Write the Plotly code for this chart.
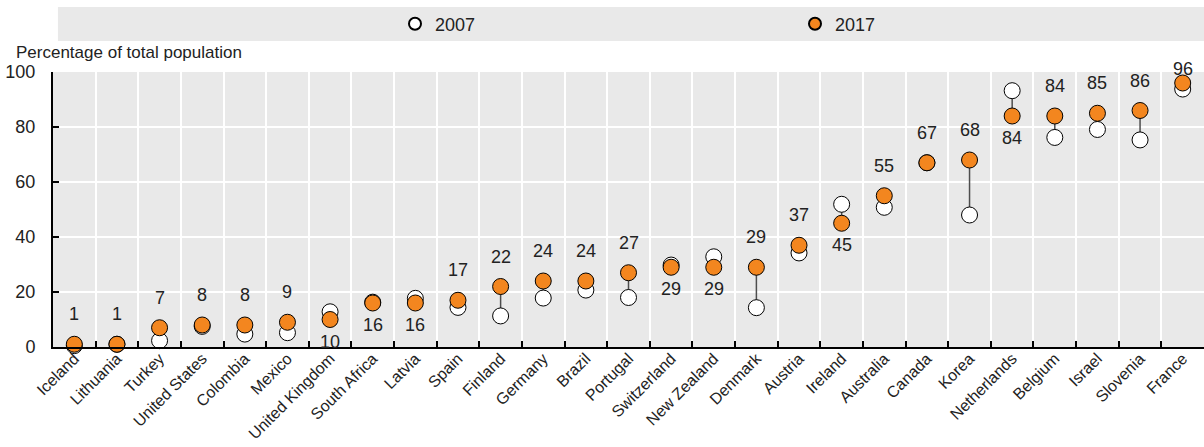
import plotly.graph_objects as go

countries = ["Iceland", "Lithuania", "Turkey", "United States", "Colombia", "Mexico",
             "United Kingdom", "South Africa", "Latvia", "Spain", "Finland", "Germany",
             "Brazil", "Portugal", "Switzerland", "New Zealand", "Denmark", "Austria",
             "Ireland", "Australia", "Canada", "Korea", "Netherlands", "Belgium",
             "Israel", "Slovenia", "France"]
share_2007 = [0.5, 1.0, 2.3, 7.5, 4.7, 5.2, 12.8, 16.3, 17.7, 14.4, 11.3, 17.8,
              20.7, 18.0, 29.8, 32.8, 14.3, 34.2, 51.9, 50.8, 67.0, 48.0, 93.2, 76.2,
              79.1, 75.3, 93.8]
share_2017 = [1, 1, 7, 8, 8, 9, 10, 16, 16, 17, 22, 24, 24, 27, 29, 29, 29, 37,
              45, 55, 67, 68, 84, 84, 85, 86, 96]
y_ticks = [0, 20, 40, 60, 80, 100]

FONT = "Liberation Sans Narrow, Arial Narrow, Liberation Sans, Arial, sans-serif"
ORANGE = "#F3861F"
TEXT = "#222222"
FS = 17

fig = go.Figure()

# vertical connectors between the two years
cx, cy = [], []
for c, a, b in zip(countries, share_2007, share_2017):
    cx += [c, c, None]
    cy += [a, b, None]
fig.add_trace(go.Scatter(x=cx, y=cy, mode="lines", line=dict(color="#4d4d4d", width=1.5),
                         hoverinfo="skip", showlegend=False, cliponaxis=False))

fig.add_trace(go.Scatter(x=countries, y=share_2007, mode="markers", name="2007",
                         marker=dict(size=16, color="white", line=dict(color="black", width=1)),
                         cliponaxis=False))
fig.add_trace(go.Scatter(x=countries, y=share_2017, mode="markers", name="2017",
                         marker=dict(size=16, color=ORANGE, line=dict(color="black", width=1)),
                         cliponaxis=False))

# value labels for 2017: above the pair when it rose, below when it fell;
# labels near the top are kept just above the plotting area
PX_PER_UNIT = 275 / 100
annotations = []
for c, a, b in zip(countries, share_2007, share_2017):
    if b >= a:
        yv = max(a, b)
        shift = min(30, (101 - yv) * PX_PER_UNIT)
    else:
        yv, shift = min(a, b), -22
    annotations.append(dict(x=c, y=yv, text=str(b), showarrow=False, yshift=shift,
                            xanchor="center", yanchor="middle",
                            font=dict(family=FONT, size=FS + 1, color=TEXT)))

annotations.append(dict(xref="paper", yref="paper", x=-0.034, y=1.0727, xanchor="left",
                        yanchor="middle", text="Percentage of total population",
                        showarrow=False, font=dict(family=FONT, size=FS, color=TEXT)))

fig.update_layout(
    width=1204, height=447,
    margin=dict(l=53, r=0, t=72, b=100, autoexpand=False),
    paper_bgcolor="white",
    plot_bgcolor="#e9e9e9",
    font=dict(family=FONT, size=FS, color=TEXT),
    annotations=annotations,
    shapes=[dict(type="rect", xref="paper", yref="paper", x0=0.0043, x1=1.0,
                 y0=1.1127, y1=1.236, fillcolor="#e9e9e9", line=dict(width=0), layer="below")],
    showlegend=True,
    legend=dict(orientation="h", x=(395 - 53) / 1151, xanchor="left", y=1.1745,
                yanchor="middle", bgcolor="rgba(0,0,0,0)", entrywidth=355,
                entrywidthmode="pixels", itemsizing="constant", tracegroupgap=0,
                font=dict(family=FONT, size=FS + 1, color=TEXT)),
    xaxis=dict(type="category", categoryorder="array", categoryarray=countries,
               tickson="boundaries", ticks="inside", ticklen=6, tickcolor="black",
               tickwidth=1.5, showgrid=True, gridcolor="white", gridwidth=2,
               showline=True, linecolor="black", linewidth=2, tickangle=-45,
               automargin=False, ticklabelstandoff=-6,
               tickfont=dict(family=FONT, size=16, color=TEXT), range=[-0.5, 26.5]),
    yaxis=dict(range=[0, 100], tickvals=y_ticks, ticks="inside", ticklen=6,
               tickcolor="black", tickwidth=1.5, showgrid=True, gridcolor="white",
               gridwidth=2, showline=True, linecolor="black", linewidth=2,
               zeroline=False, ticklabelstandoff=12, automargin=False,
               tickfont=dict(family=FONT, size=FS + 1, color=TEXT)),
)

fig.write_html("out.html")
